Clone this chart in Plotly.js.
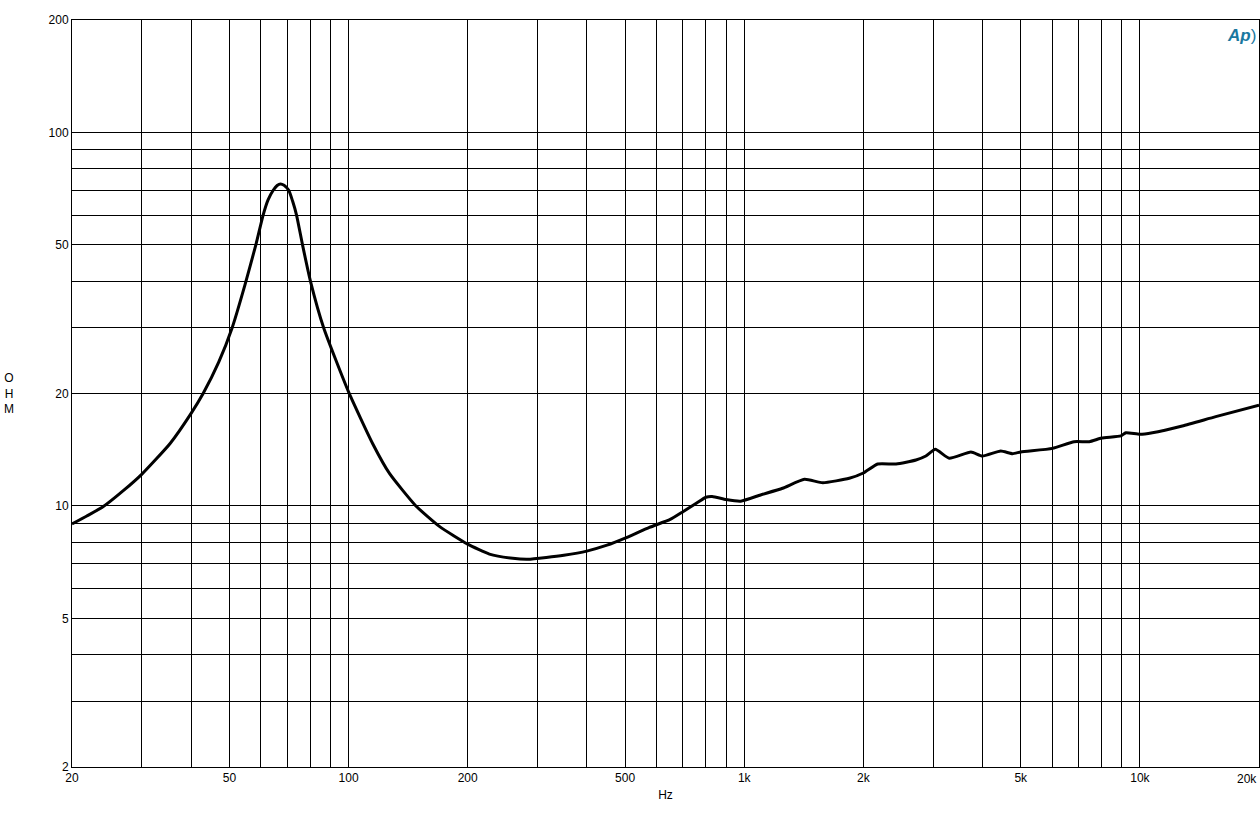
<!DOCTYPE html>
<html>
<head>
<meta charset="utf-8">
<script src="https://cdn.plot.ly/plotly-3.0.1.min.js"></script>
<style>html,body{margin:0;padding:0;background:#fff;}#chart{width:1260px;height:831px;}</style>
</head>
<body>
<div id="chart"></div>
<script>
// Frequency (Hz)
const freq = [20, 21.8, 24, 27, 30, 35.4, 40, 42.9, 47, 50.8, 54.7, 58.3, 60.8, 62.6, 64.5, 66, 67.3, 68.7, 70.6, 72.2, 73.9, 76.5, 80.1, 86.5, 100, 115, 127, 148, 170, 200, 227, 260, 284, 316, 350, 400, 450, 500, 576, 650, 700, 760, 800, 830, 900, 980, 1100, 1250, 1420, 1580, 1843, 2000, 2174, 2420, 2717, 2878, 3040, 3298, 3742, 4000, 4450, 4765, 5000, 6013, 6820, 7450, 8000, 8950, 9215, 10000, 10754, 12800, 15550, 20000];
// Impedance (Ohm)
const ohm = [8.95, 9.4, 9.96, 11.0, 12.15, 14.7, 17.7, 20, 24.3, 30, 39, 50, 60, 66, 70, 72.1, 72.8, 72.2, 70, 65.5, 60, 50, 40, 30, 20.2, 14.7, 12.2, 10.0, 8.8, 7.9, 7.43, 7.24, 7.2, 7.28, 7.38, 7.57, 7.85, 8.2, 8.76, 9.2, 9.65, 10.2, 10.55, 10.6, 10.4, 10.3, 10.7, 11.15, 11.78, 11.54, 11.86, 12.25, 12.95, 12.95, 13.27, 13.6, 14.18, 13.41, 13.94, 13.6, 14.03, 13.8, 13.95, 14.26, 14.86, 14.86, 15.2, 15.4, 15.7, 15.55, 15.7, 16.37, 17.34, 18.62];

const xTickVals = [20,30,40,50,60,70,80,90,100,200,300,400,500,600,700,800,900,1000,2000,3000,4000,5000,6000,7000,8000,9000,10000,20000];
const xTickText = ['20','','','50','','','','','100','200','','','500','','','','','1k','2k','','','5k','','','','','10k','20k'];
const yTickVals = [2,3,4,5,6,7,8,9,10,20,30,40,50,60,70,80,90,100,200];
const yTickText = ['2','','','5','','','','','10','20','','','50','','','','','100','200'];

const trace = {
  x: freq, y: ohm, type: 'scatter', mode: 'lines',
  line: {color: '#000', width: 3, shape: 'spline', smoothing: 0.5},
  hoverinfo: 'x+y'
};

const fontFam = 'Liberation Sans, Arial, sans-serif';
// the last x tick label sits at the right edge; draw it as an annotation so it is not dropped
const xTickTextShown = xTickText.slice(0, -1).concat(['']);
const layout = {
  width: 1260, height: 831,
  margin: {l: 72, r: 1, t: 20, b: 64},
  paper_bgcolor: '#fff', plot_bgcolor: '#fff',
  showlegend: false,
  font: {family: fontFam, size: 12, color: '#000'},
  xaxis: {
    type: 'log', range: [Math.log10(20), Math.log10(20000)],
    tickmode: 'array', tickvals: xTickVals, ticktext: xTickTextShown,
    showgrid: true, gridcolor: '#000', gridwidth: 1,
    showline: true, linecolor: '#000', linewidth: 1, mirror: true,
    ticks: '', zeroline: false,
    tickfont: {family: fontFam, size: 12, color: '#000'},
    title: {text: 'Hz', font: {family: fontFam, size: 12, color: '#000'}, standoff: 6}
  },
  yaxis: {
    type: 'log', range: [Math.log10(2), Math.log10(200)],
    tickmode: 'array', tickvals: yTickVals, ticktext: yTickText,
    showgrid: true, gridcolor: '#000', gridwidth: 1,
    showline: true, linecolor: '#000', linewidth: 1, mirror: true,
    ticks: '', zeroline: false,
    tickfont: {family: fontFam, size: 12, color: '#000'}
  },
  annotations: [
    {text: xTickText[xTickText.length - 1], xref: 'paper', yref: 'paper', x: 1, y: 0,
     yshift: -3, showarrow: false, xanchor: 'right', yanchor: 'top',
     font: {family: fontFam, size: 12, color: '#000'}},
    {text: 'O<br>H<br>M', xref: 'paper', yref: 'paper', x: (9 - 72) / 1187, y: 0.5,
     showarrow: false, xanchor: 'center', yanchor: 'middle',
     font: {family: fontFam, size: 12, color: '#000'}},
    {text: '<i><b>Ap</b></i>)', xref: 'paper', yref: 'paper', x: (1241 - 72) / 1187, y: (767 - 35) / 747,
     showarrow: false, xanchor: 'center', yanchor: 'middle',
     font: {family: fontFam, size: 17, color: '#1a78a0'}}
  ]
};

Plotly.newPlot('chart', [trace], layout, {displayModeBar: false, staticPlot: true});
</script>
</body>
</html>
